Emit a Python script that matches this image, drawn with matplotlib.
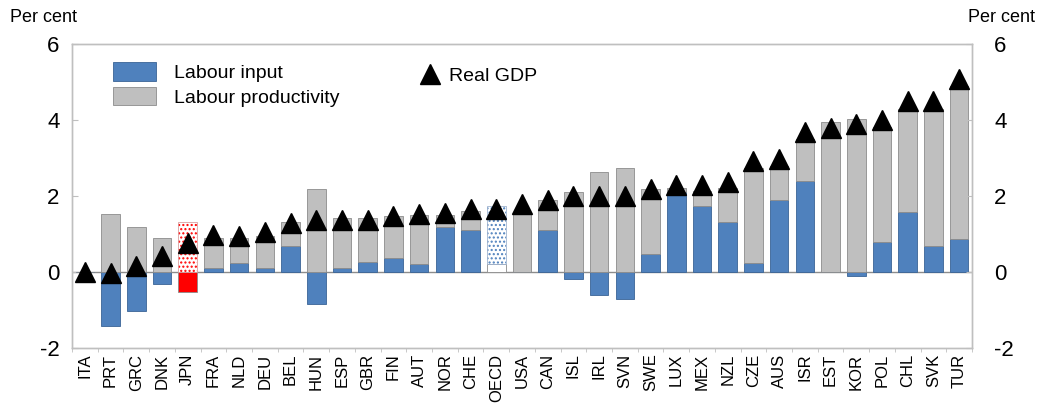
import matplotlib
matplotlib.use("Agg")
import matplotlib.pyplot as plt
from matplotlib.patches import Patch
from matplotlib.lines import Line2D
import numpy as np

plt.rcParams['font.family'] = ['Liberation Sans', 'DejaVu Sans']

countries = ["ITA", "PRT", "GRC", "DNK", "JPN", "FRA", "NLD", "DEU", "BEL", "HUN",
             "ESP", "GBR", "FIN", "AUT", "NOR", "CHE", "OECD", "USA", "CAN", "ISL",
             "IRL", "SVN", "SWE", "LUX", "MEX", "NZL", "CZE", "AUS", "ISR", "EST",
             "KOR", "POL", "CHL", "SVK", "TUR"]
labour_input = [0.00, -1.41, -1.04, -0.32, -0.52, 0.11, 0.23, 0.11, 0.68, -0.84,
                0.11, 0.26, 0.36, 0.22, 1.19, 1.09, 0.20, 0.00, 1.09, -0.20,
                -0.60, -0.70, 0.47, 2.09, 1.73, 1.32, 0.24, 1.89, 2.40, 0.00,
                -0.10, 0.78, 1.56, 0.68, 0.87]
labour_productivity = [0.00, 1.53, 1.19, 0.89, 1.31, 0.77, 0.65, 0.82, 0.64, 2.18,
                       1.30, 1.15, 1.10, 1.28, 0.31, 0.51, 1.52, 1.56, 0.79, 2.09,
                       2.62, 2.72, 1.70, 0.11, 0.39, 0.88, 2.48, 0.88, 1.09, 3.93,
                       4.02, 3.02, 2.72, 3.60, 4.02]
real_gdp = [0.00, -0.02, 0.15, 0.42, 0.76, 0.96, 0.95, 1.06, 1.28, 1.36,
            1.35, 1.35, 1.47, 1.53, 1.54, 1.65, 1.65, 1.78, 1.90, 1.99,
            2.00, 2.00, 2.17, 2.27, 2.27, 2.37, 2.90, 2.96, 3.68, 3.78,
            3.89, 4.00, 4.50, 4.50, 5.08]
yticks = [-2, 0, 2, 4, 6]

BLUE = "#4F81BD"
BLUE_EDGE = "#3A6496"
GRAY = "#BFBFBF"
GRAY_EDGE = "#8C8C8C"
RED = "#FF0000"

fig = plt.figure(figsize=(10.4, 4.08), dpi=100)
ax = fig.add_axes([72/1040, 1-348/408, 900/1040, (348-43.5)/408])

x = np.arange(len(countries))
li = np.array(labour_input)
lp = np.array(labour_productivity)
prod_bottom = np.where(li > 0, li, 0.0)
w = 0.72

for i, c in enumerate(countries):
    if c == "JPN":
        ax.bar(i, li[i], w, color=RED, edgecolor=GRAY_EDGE, linewidth=0.6, zorder=2)
        ax.bar(i, lp[i], w, bottom=prod_bottom[i], facecolor="white",
               edgecolor=RED, hatch="....", linewidth=0, zorder=2)
        ax.bar(i, lp[i], w, bottom=prod_bottom[i], fill=False,
               edgecolor="#D9A0A0", linewidth=0.6, zorder=2)
    elif c == "OECD":
        ax.bar(i, li[i], w, facecolor="white", edgecolor=GRAY_EDGE, linewidth=0.6, zorder=2)
        ax.bar(i, lp[i], w, bottom=prod_bottom[i], facecolor="white",
               edgecolor=BLUE, hatch="....", linewidth=0, zorder=2)
        ax.bar(i, lp[i], w, bottom=prod_bottom[i], fill=False,
               edgecolor="#A0B4D0", linewidth=0.6, zorder=2)
    else:
        ax.bar(i, li[i], w, color=BLUE, edgecolor=BLUE_EDGE, linewidth=0.6, zorder=2)
        ax.bar(i, lp[i], w, bottom=prod_bottom[i], color=GRAY,
               edgecolor=GRAY_EDGE, linewidth=0.6, zorder=2)

ax.plot(x, real_gdp, linestyle="none", marker="^", markersize=14,
        color="black", zorder=4)

ax.axhline(0, color="#8C8C8C", linewidth=1.0, zorder=1)

ax.set_xlim(-0.5, len(countries) - 0.5)
ax.set_ylim(-2, 6)
ax.set_yticks(yticks)
ax.set_yticklabels([str(t) for t in yticks], fontsize=16)
ax.set_xticks(x)
ax.set_xticklabels(countries, rotation=90, fontsize=12)
ax.tick_params(axis="x", length=0, pad=4)
ax.set_xticks(np.arange(-0.5, len(countries), 1), minor=True)
ax.tick_params(axis="x", which="minor", length=3, color="#BFBFBF", direction="out")
ax.tick_params(axis="y", direction="in", length=4, color="#BFBFBF",
               left=True, right=False, labelleft=True, labelright=False, pad=9)

ax2 = ax.twinx()
ax2.set_ylim(-2, 6)
ax2.set_yticks(yticks)
ax2.set_yticklabels([str(t) for t in yticks], fontsize=16)
ax2.tick_params(axis="y", direction="in", length=4, color="#BFBFBF", pad=16)
for t in ax2.get_yticklabels():
    t.set_horizontalalignment("left")

for a in (ax, ax2):
    for sp in a.spines.values():
        sp.set_color("#BFBFBF")
        sp.set_linewidth(1.0)

fig.text(10/1040, 1-17/408, "Per cent", fontsize=13, va="center", ha="left")
fig.text(1035/1040, 1-17/408, "Per cent", fontsize=13, va="center", ha="right")

handles1 = [Patch(facecolor=BLUE, edgecolor=BLUE_EDGE, linewidth=0.6),
            Patch(facecolor=GRAY, edgecolor=GRAY_EDGE, linewidth=0.6)]
leg1 = fig.legend(handles1, ["Labour input", "Labour productivity"],
                  loc="upper left", bbox_to_anchor=(113/1040, 1-62/408),
                  frameon=False, fontsize=14, borderpad=0, borderaxespad=0,
                  handlelength=2.2, handleheight=1.1, handletextpad=0.95,
                  labelspacing=0.25)
handles2 = [Line2D([], [], linestyle="none", marker="^", markersize=14, color="black")]
leg2 = fig.legend(handles2, ["Real GDP"], loc="center left",
                  bbox_to_anchor=(420/1040, 1-76/408), frameon=False,
                  fontsize=14, borderpad=0, borderaxespad=0,
                  handlelength=1.0, handletextpad=0.5)

fig.savefig("out.png", dpi=100)
